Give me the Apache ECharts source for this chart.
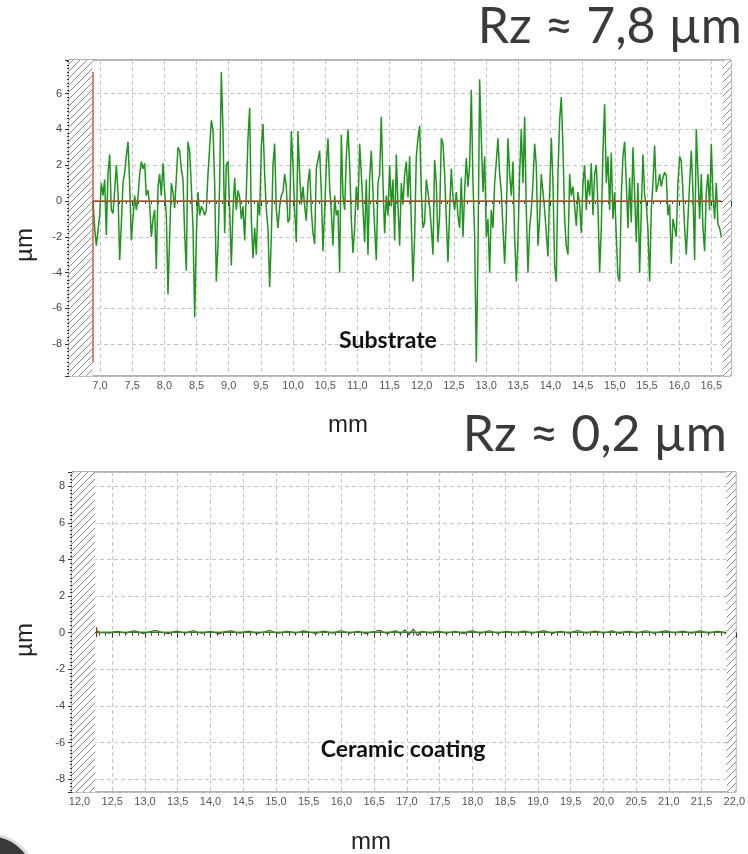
<!DOCTYPE html>
<html><head><meta charset="utf-8">
<script src="https://cdn.jsdelivr.net/npm/echarts@6/dist/echarts.min.js"></script>
<style>html,body{margin:0;padding:0;background:#fff;}#c{width:748px;height:854px;}</style>
</head><body><div id="c"></div>
<script>
// ---- Substrate profile (µm), left to right ----
const substrateA = [0, -1.5, -2.5, -2.4, -0.8, 1, 0.3, 1.2, -1.9, 1.5, 2.6, -0.5, -0.7, 0.6, 2, 0.5, -3.3, -1.3, 1, 1.6, 2.5, 3.3, 1, -2.2, -2.3, 0.3, -0.5, 0.2, 1.5, 2.2, 1.8, 2.1, 0.3, 0.6, -0.2, -2, -1, -0.5, -3.8, 0.8, 1.5, 0.3, 2.1, 0.5, -0.8, -5.2, -2, 1, 0.5, -0.4, 1.3, 3, 2.8, 1.8, 1.2, -1.8, -3.9, 3.3, 2.8, 0.8, -1.5, -6.5, -2, 0.5, -0.8, -0.3, -0.5, -0.8, -0.5, 1.5, 3, 4.5, 4, 1, -4.5, -2.5, 1, 7.2, 4, -1.8, 2, 2.2, -0.5, -3.6, -0.5, 1.3, -0.5, 0.6, 0.2, -1, -0.3, -2.2, 0.5, 3.5, 5.2];
const substrateB = [-1, -3.2, -1.5, -3, 0, -0.8, 3, 4.3, 1.5, -0.5, -1.5, -4.8, -2, 2, 3.2, -0.5, -1.5, -0.3, 0.3, 0.5, 1.5, 0.8, -1.2, -1, 3.9, 2, -0.5, -2.3, 3.9, 1.5, -0.2, 0.8, -0.3, -1.1, 1, 1.8, -0.5, -1.8, -2.4, 1.8, 2.3, 2.8, 0.5, -2.8, -0.5, 2, 3.5, 0.8, -0.6, -2.5, 0.3, -0.8, -0.5, -4, 3.7, 0.3, -0.5, 2.5, 4, 2, -1, -2.9, -1.5, 0.8, -0.5, 3.2, 1.5, -0.4, -2.3, 1.2, -3, 1.3, 2.8, 0.5, -1.5, -3.3, 1, 1.5, 4.7, 1, -1.8, 0.3, -0.8, 2, -0.3, 1.2, -2.2, 2.6, -0.3, -2.5, 1, -0.2, 1.5, 2.2, 0.2];
const substrateC = [2.5, -1.2, -4.5, -2, 2.5, 3.5, 4.2, 0.5, -1.5, -1.2, 1.2, 0.5, -0.3, -1.5, -3, 2.3, 1, -2.3, -0.8, 3.5, 3.2, 1.5, -1, -3.4, -0.5, 1.8, 0.2, -0.5, 0.5, -0.8, -1.5, 1.3, -2, 0.5, 2.4, 0.8, 2, 6.2, 1, -2, -9, -3, 6.8, 3.5, 0.5, 2.5, -2, -1, -4, -0.5, -1.5, 1, 2.2, 3.5, 1.5, 0.5, -1.5, -3.5, -1, 3.5, 1.5, 0.3, 2.2, -2, -4.5, -2.2, 1.5, 4, 1, 4.7, -0.5, -4, -1.5, -0.5, 1, 3.2, 2, -2.5, -1, 1.5, 1.6, -0.5, -1.8, -3.1, 0.5, 3.5, 1, -3.6, -4.5, 1.5, 4.5, 5.8, 3, -1, -2.5, -3];
const substrateD = [1.5, 0.3, 0.8, -0.3, -1.4, 0.5, -0.2, -1.8, 1, 2, -0.5, 1.2, 0.3, 2.1, -0.8, 1.5, 2, -0.3, -4, -1.5, 2.8, 5.4, 1, 2.5, -0.5, 2.7, -1, 0.5, -2, -4.2, -4.5, 0.3, 2.5, 3.3, 1, -1.5, 1.3, -1.2, 3, 0.5, -2.3, 1, -4, -0.5, 2.6, 0.3, -0.2, -1.6, -4.5, -0.5, 1, 3.1, 0.5, 0.9, 1.5, 0.8, 1.3, 1.6, 1.4, -0.8, -0.2, -3.5, -1, -1.5, -2, 1, 2.5, 2.2, 0.5, -1.5, -3, -1, 1, 2.8, 0.5, -3.3, 4, 1.5, -1, 1.5, -1.5, -2.8, 0.5, 1.5, -0.5, 3.2, 0.3, -1, 1, -1.3, -1.5, -2];
const substrateStartMm = 6.891, substrateEndMm = 16.655;

// ---- Ceramic coating profile (µm) ----
const coatingProfile = [0.1, 0, 0.02, -0.03, 0.05, 0.08, 0.02, -0.02, 0.06, 0.1, 0.03, -0.04, 0.02, 0.07, 0.12, 0.05, 0, -0.05, 0.03, 0.09, 0.04, -0.02, 0.06, 0.11, 0.02, -0.03, 0.04, 0.08, 0.01, -0.06, 0.03, 0.07, 0.1, 0.02, -0.02, 0.05, 0.09, 0.03, -0.04, 0.01, 0.06, 0.12, 0.04, -0.03, 0.02, 0.08, 0.05, -0.02, 0.03, 0.1, 0.06, 0, -0.04, 0.05, 0.09, 0.02, -0.03, 0.06, 0.11, 0.04, -0.02, 0.03, 0.07, 0.01, -0.05, 0.04, 0.08, 0.13, 0.02, -0.04, 0.06, 0.1, -0.05, 0.15, -0.12, 0.2, -0.15, 0.08, 0.03, -0.02, 0.05, 0.09, 0.02, -0.03, 0.04, 0.07, 0.01, -0.04, 0.06, 0.1, 0.03, -0.02, 0.05, 0.11, 0.04, -0.03, 0.02, 0.08, 0.05, -0.01, 0.03, 0.09, 0.06, -0.03, 0.02, 0.07, 0.1, 0.03, -0.04, 0.05, 0.08, 0.02, -0.02, 0.06, 0.12, 0.04, -0.03, 0.03, 0.09, 0.05, -0.02, 0.04, 0.1, 0.02, -0.04, 0.06, 0.08, 0.03, -0.02, 0.05, 0.11, 0.04, -0.03, 0.02, 0.07, 0.1, 0.03, -0.01, 0.05, 0.09, 0.02, -0.03, 0.06, 0.1, 0.04, -0.02, 0.03, 0.07, 0.05, -0.04];
const coatingStartMm = 12.26, coatingEndMm = 21.87;

// ---- Axis windows ----
const topX = [6.518, 16.806], topY = [-9.77, 7.87];
const botX = [11.885, 22.023], botY = [-8.70, 8.78];
const rzTexts = ['Rz \u2248 7,8 \u00b5m', 'Rz \u2248 0,2 \u00b5m'];
const panelLabels = ['Substrate', 'Ceramic coating'];

function toXY(vals, start, end) {
  const step = (end - start) / (vals.length - 1);
  return vals.map((v, i) => [start + i * step, v]);
}
const substrate = substrateA.concat(substrateB, substrateC, substrateD);
const subData = toXY(substrate, substrateStartMm, substrateEndMm);
const coatData = toXY(coatingProfile, coatingStartMm, coatingEndMm);

// hatch pattern
const pc = document.createElement('canvas');
pc.width = 7; pc.height = 7;
const g = pc.getContext('2d');
g.fillStyle = '#fff'; g.fillRect(0, 0, 7, 7);
g.strokeStyle = '#8a8a8a'; g.lineWidth = 1;
g.beginPath();
g.moveTo(-1, 8); g.lineTo(8, -1);
g.stroke();
const hatch = { image: pc, repeat: 'repeat' };

const commaFmt = v => v.toFixed(1).replace('.', ',');
function xAxisCfg(idx, ext) {
  return {
    type: 'value', gridIndex: idx, min: ext[0], max: ext[1], splitNumber: 20,
    axisLine: { lineStyle: { color: '#222', width: 1 } },
    axisTick: { length: 5, lineStyle: { color: '#333' } },
    minorTick: { show: true, splitNumber: 5, length: 3, lineStyle: { color: '#444' } },
    axisLabel: { formatter: commaFmt, color: '#555', fontSize: 11, margin: 4,
      fontFamily: 'Liberation Sans', showMinLabel: false, showMaxLabel: false },
    splitLine: { show: true, lineStyle: { color: '#c4c4c4', type: [4, 3] } }
  };
}
function yAxisCfg(idx, ext) {
  return {
    type: 'value', gridIndex: idx, min: ext[0], max: ext[1], splitNumber: 9,
    axisLine: { show: true, lineStyle: { color: '#222', width: 1 } },
    axisTick: { show: true, length: 4, lineStyle: { color: '#333' } },
    minorTick: { show: true, splitNumber: 10, length: 2, lineStyle: { color: '#333' } },
    axisLabel: { color: '#444', fontSize: 11, margin: 7, fontFamily: 'Liberation Sans',
      showMinLabel: false, showMaxLabel: false },
    splitLine: { show: true, lineStyle: { color: '#c4c4c4', type: [4, 3] } }
  };
}
function hatchArea(ext, s, e) {
  return { silent: true, itemStyle: { color: hatch, opacity: 1 },
    data: [[{ xAxis: ext[0] }, { xAxis: s }], [{ xAxis: e }, { xAxis: ext[1] }]] };
}
const subMax = Math.max(...substrate), subMin = Math.min(...substrate);
const coatMax = Math.max(...coatingProfile), coatMin = Math.min(...coatingProfile);

const chart = echarts.init(document.getElementById('c'), null, { renderer: 'canvas' });
chart.setOption({
  animation: false,
  backgroundColor: '#fff',
  grid: [
    { left: 69, right: 17, top: 60, height: 316, show: true, borderColor: '#666', borderWidth: 1, backgroundColor: '#fff' },
    { left: 72, right: 12, top: 472, height: 320, show: true, borderColor: '#666', borderWidth: 1, backgroundColor: '#fff' }
  ],
  xAxis: [xAxisCfg(0, topX), xAxisCfg(1, botX)],
  yAxis: [yAxisCfg(0, topY), yAxisCfg(1, botY)],
  series: [
    { type: 'line', xAxisIndex: 0, yAxisIndex: 0, data: [], markArea: hatchArea(topX, substrateStartMm - 0.01, substrateEndMm + 0.02) },
    { type: 'line', xAxisIndex: 0, yAxisIndex: 0, data: subData, showSymbol: false, z: 3,
      lineStyle: { color: '#1f951f', width: 1.5 } },
    { type: 'line', xAxisIndex: 0, yAxisIndex: 0, showSymbol: false, z: 4,
      data: [[substrateStartMm, 0], [substrateEndMm, 0]], lineStyle: { color: '#b4562c', width: 1.3 } },
    { type: 'line', xAxisIndex: 0, yAxisIndex: 0, showSymbol: false, z: 4,
      data: [[substrateStartMm, subMax], [substrateStartMm, subMin]], lineStyle: { color: '#c8402e', width: 1.3 } },

    { type: 'line', xAxisIndex: 1, yAxisIndex: 1, data: [], markArea: hatchArea(botX, coatingStartMm - 0.02, coatingEndMm + 0.01) },
    { type: 'line', xAxisIndex: 1, yAxisIndex: 1, data: coatData, showSymbol: false, z: 3,
      lineStyle: { color: '#6e3a1c', width: 1.2 } },
    { type: 'line', xAxisIndex: 1, yAxisIndex: 1, showSymbol: false, z: 4,
      data: [[coatingStartMm, 0.03], [coatingEndMm, 0.03]], lineStyle: { color: '#2ea32e', width: 1.2 } },
    { type: 'line', xAxisIndex: 1, yAxisIndex: 1, showSymbol: false, z: 4,
      data: [[coatingStartMm, coatMax + 0.1], [coatingStartMm, coatMin - 0.1]], lineStyle: { color: '#8a3a1a', width: 1.3 } }
  ],
  graphic: [
    { type: 'text', right: 6, top: 2, style: { text: rzTexts[0], font: '50px Lato', fill: '#3a3a3a' } },
    { type: 'text', right: 21, top: 410, style: { text: rzTexts[1], font: '50px Lato', fill: '#3a3a3a' } },
    { type: 'text', x: 25, y: 245, rotation: Math.PI / 2, style: { text: '\u00b5m', font: '24px "Liberation Sans"', fill: '#222', align: 'center', verticalAlign: 'middle' } },
    { type: 'text', x: 25, y: 640, rotation: Math.PI / 2, style: { text: '\u00b5m', font: '24px "Liberation Sans"', fill: '#222', align: 'center', verticalAlign: 'middle' } },
    { type: 'text', x: 348, y: 425, style: { text: 'mm', font: '24px "Liberation Sans"', fill: '#222', align: 'center', verticalAlign: 'middle' } },
    { type: 'text', x: 371, y: 842, style: { text: 'mm', font: '24px "Liberation Sans"', fill: '#222', align: 'center', verticalAlign: 'middle' } },
    { type: 'text', x: 388, y: 341, z: 10, style: { text: panelLabels[0], font: 'bold 23px Lato', fill: '#111', align: 'center', verticalAlign: 'middle' } },
    { type: 'text', x: 403, y: 750, z: 10, style: { text: panelLabels[1], font: 'bold 23px Lato', fill: '#111', align: 'center', verticalAlign: 'middle' } },
    { type: 'circle', shape: { cx: -10, cy: 880, r: 45 }, style: { fill: '#3a3a3c', stroke: '#dcdcdc', lineWidth: 3 } }
  ]
});
</script></body></html>
